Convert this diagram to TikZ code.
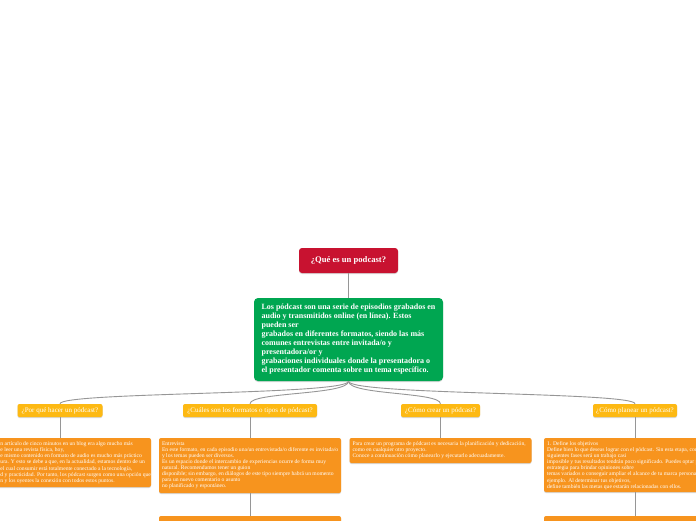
\documentclass[tikz,border=0pt]{standalone}
\usepackage{fontspec}
\setmainfont{Liberation Serif}
\usetikzlibrary{positioning, shadows}
\definecolor{mapred}{RGB}{200,18,48}
\definecolor{mapgreen}{RGB}{0,166,81}
\definecolor{mapyellow}{RGB}{253,185,19}
\definecolor{maporange}{RGB}{247,148,30}
\definecolor{mapline}{RGB}{150,150,150}

\begin{document}
\begin{tikzpicture}[x=1pt,y=-1pt,
  root/.style={fill=mapred, text=white, rounded corners=3pt, minimum width=99pt, minimum height=25pt,
    font=\fontsize{8.6}{10}\selectfont\bfseries, drop shadow={shadow xshift=0pt, shadow yshift=-1pt, fill=black!30, opacity=0.5}},
  answer/.style={fill=mapgreen, text=white, rounded corners=4pt, align=left, minimum width=189pt, minimum height=83pt,
    font=\fontsize{8}{9}\selectfont\bfseries, drop shadow={shadow xshift=0pt, shadow yshift=-1pt, fill=black!30, opacity=0.5}},
  topic/.style={fill=mapyellow, text=white, rounded corners=2pt, minimum height=13pt, inner sep=1pt,
    font=\fontsize{7}{8}\selectfont, drop shadow={shadow xshift=0pt, shadow yshift=-1pt, fill=black!30, opacity=0.5}},
  detail/.style={fill=maporange, rounded corners=2pt, minimum width=182pt,
    drop shadow={shadow xshift=0pt, shadow yshift=-1pt, fill=black!30, opacity=0.5}},
  detailtext/.style={text=white, align=left, inner sep=0pt, font=\fontsize{5.6}{6.1}\selectfont},
  link/.style={draw=mapline, line width=0.9pt}]
  \clip (0,0) rectangle (696,520);
  \fill[white] (0,0) rectangle (696,520);

  % centre of the map
  \node[root] (what) at (348.5,260.5) {¿Qué es un podcast?};
  \node[answer] (def) at (348.5,339.5) {Los pódcast son una serie de episodios grabados en\\
    audio y transmitidos online (en línea). Estos\\
    pueden ser\\
    grabados en diferentes formatos, siendo las más\\
    comunes entrevistas entre invitada/o y\\
    presentadora/or y\\
    grabaciones individuales donde la presentadora o\\
    el presentador comenta sobre un tema específico.};
  \draw[link] (what) -- (def);

  % questions
  \node[topic, minimum width=85pt] (why) at (60,410.5) {¿Por qué hacer un pódcast?};
  \node[topic, minimum width=134pt] (kinds) at (250,410.5) {¿Cuáles son los formatos o tipos de pódcast?};
  \node[topic, minimum width=79pt] (make) at (440.5,410.5) {¿Cómo crear un pódcast?};
  \node[topic, minimum width=84pt] (plan) at (635,410.5) {¿Cómo planear un pódcast?};
  \foreach \q in {why,kinds,make,plan}
    \draw[link] (def.south) .. controls +(0,14) and +(0,-12) .. (\q.north);

  % answers
  \node[detail, minimum height=49pt] (whybox) at (60,462.5) {};
  \node[detail, minimum height=55pt] (kindsbox) at (250,465.5) {};
  \node[detail, minimum height=25pt] (makebox) at (440.5,450.5) {};
  \node[detail, minimum height=54pt] (planbox) at (635,465) {};
  \node[detail, minimum height=30pt] (kindsnext) at (250,531) {};
  \node[detail, minimum height=30pt] (plannext) at (635,531) {};
  \draw[link] (why) -- (whybox);
  \draw[link] (kinds) -- (kindsbox);
  \draw[link] (make) -- (makebox);
  \draw[link] (plan) -- (planbox);
  \draw[link] (kindsbox) -- (kindsnext);
  \draw[link] (planbox) -- (plannext);

  \node[detailtext, anchor=north west] (whytext) at (0.3,441.5) {n artículo de cinco minutos en un blog era algo mucho más\\
    e leer una revista física, hoy,\\
    e mismo contenido en formato de audio es mucho más práctico\\
    ura. Y esto se debe a que, en la actualidad, estamos dentro de un\\
    el cual consumir está totalmente conectado a la tecnología,\\
    d y practicidad. Por tanto, los pódcast surgen como una opción que\\
    n y los oyentes la conexión con todos estos puntos.};
  \node[detailtext, anchor=north west] (kindstext) at ([shift={(3,3.5)}]kindsbox.north west) {Entrevista\\
    En este formato, en cada episodio una/un entrevistada/o diferente es invitada/o\\
    y los temas pueden ser diversos.\\
    Es un espacio donde el intercambio de experiencias ocurre de forma muy\\
    natural. Recomendamos tener un guion\\
    disponible; sin embargo, en diálogos de este tipo siempre habrá un momento\\
    para un nuevo comentario o asunto\\
    no planificado y espontáneo.};
  \node[detailtext, anchor=north west] (maketext) at ([shift={(3,3.5)}]makebox.north west) {Para crear un programa de pódcast es necesaria la planificación y dedicación,\\
    como en cualquier otro proyecto.\\
    Conoce a continuación cómo planearlo y ejecutarlo adecuadamente.};
  \node[detailtext, anchor=north west] (plantext) at ([shift={(3,3.5)}]planbox.north west) {1. Define los objetivos\\
    Define bien lo que deseas lograr con el pódcast. Sin esta etapa, cons\\
    siguientes fases será un trabajo casi\\
    imposible y tus resultados tendrán poco significado. Puedes optar p\\
    estrategia para brindar opiniones sobre\\
    temas variados o conseguir ampliar el alcance de tu marca personal\\
    ejemplo. Al determinar tus objetivos,\\
    define también las metas que estarán relacionadas con ellos.};
\end{tikzpicture}
\end{document}
